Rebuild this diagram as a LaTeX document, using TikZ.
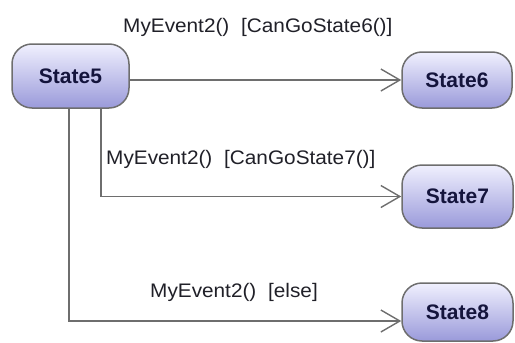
\documentclass[tikz,border=0pt]{standalone}
\usepackage{fontspec}
\setmainfont{Liberation Sans}
\newfontfamily\lblfont[FakeStretch=1.06]{Liberation Sans}
\usetikzlibrary{arrows.meta}
\definecolor{edgegray}{HTML}{6E6E6E}
\definecolor{statetop}{HTML}{F0F0FE}
\definecolor{statebot}{HTML}{9A9ADA}
\definecolor{statetext}{HTML}{14143C}
\definecolor{lbltext}{HTML}{202028}
\newcommand{\gapsp}{\hspace{0.6em}}
\tikzset{
  statebox/.style={draw=edgegray, line width=1.5pt, rounded corners=20pt,
    top color=statetop, bottom color=statebot, inner sep=0pt,
    text=statetext, font=\fontsize{21}{24}\selectfont\bfseries},
  trans/.style={draw=edgegray, line width=1.4pt, -{Straight Barb[length=19pt,width=22pt,line width=1.4pt]}},
  lbl/.style={anchor=base west, inner sep=0pt, text=lbltext, font=\lblfont\fontsize{19.6}{22}\selectfont}
}
\begin{document}
\begin{tikzpicture}[x=1pt,y=-1pt]
\useasboundingbox (0,0) rectangle (515,343);
\node[statebox, minimum width=117pt, minimum height=64pt] (s5) at (70.5,76) {State5};
\node[statebox, minimum width=110pt, minimum height=56pt] (s6) at (457,80) {State6};
\node[statebox, minimum width=111pt, minimum height=63pt] (s7) at (457.5,196.5) {State7};
\node[statebox, minimum width=111pt, minimum height=58pt] (s8) at (457.5,312) {State8};
\draw[trans] (s5.east |- s6.west) -- (s6.west);
\draw[trans] ([xshift=30.5pt]s5.south) |- (s7.west);
\draw[trans] ([xshift=-1.5pt]s5.south) |- ([yshift=-9pt]s8.west);
\node[lbl] (l6) at (123,32) {MyEvent2()\gapsp[CanGoState6()]};
\node[lbl] (l7) at (106,164) {MyEvent2()\gapsp[CanGoState7()]};
\node[lbl] (l8) at (150,297) {MyEvent2()\gapsp[else]};
\end{tikzpicture}
\end{document}
